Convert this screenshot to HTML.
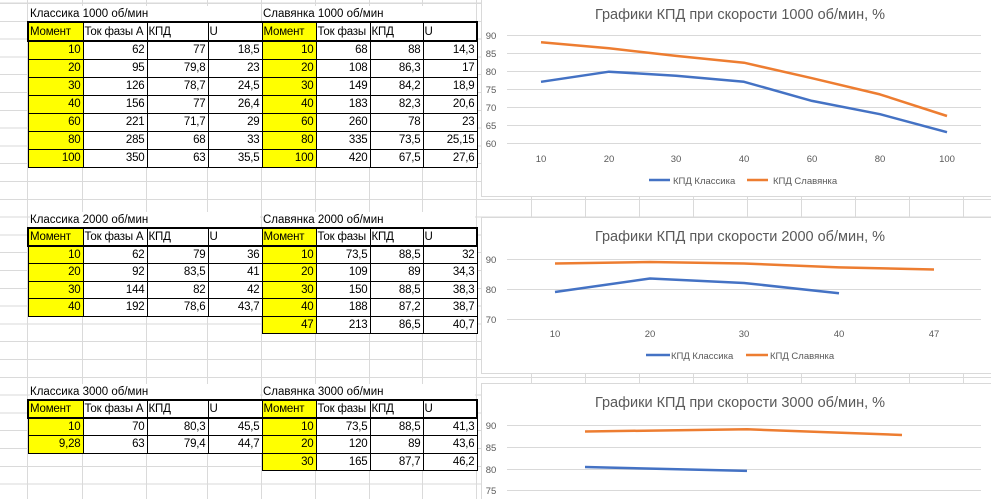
<!DOCTYPE html>
<html style="overflow:hidden"><head><meta charset="utf-8">
<style>
html,body{overflow:hidden;}
body{margin:0;width:991px;height:499px;overflow:hidden;background:#fff;position:relative;font-family:"Liberation Sans","Noto Sans CJK SC",sans-serif;}
.grid{position:absolute;left:0;top:0;width:991px;height:499px;background:repeating-linear-gradient(to bottom,#dadada 0 1px,transparent 1px 17.8px);background-position:0 3px;}
.v{position:absolute;top:0;width:1px;height:499px;background:#dadada;}
.title{position:absolute;font-size:11.5px;color:#000;background:#fff;height:16px;line-height:16px;}
table{position:absolute;left:27px;width:449px;border-collapse:collapse;table-layout:fixed;font-size:11.5px;letter-spacing:-0.2px;}
td{padding:0 2px;text-align:right;white-space:nowrap;overflow:hidden;border:1px solid #000;background:#fff;line-height:14px;}
td.e{border:none;background:transparent;}
td.y{background:#ffff00;}
tr.h td{text-align:left;border-top:2px solid #000;border-bottom:2px solid #000;padding:0 1px;}
tr.h td:first-child{border-left:2px solid #000;}
tr.h td:last-child{border-right:2px solid #000;}
.chart{position:absolute;left:481px;width:515px;background:#fff;border:1px solid #d9d9d9;}
svg{position:absolute;left:0;top:0;}
</style></head><body>
<div class="grid"></div>
<div class="v" style="left:27px"></div><div class="v" style="left:82px"></div><div class="v" style="left:146px"></div><div class="v" style="left:207px"></div><div class="v" style="left:261px"></div><div class="v" style="left:315px"></div><div class="v" style="left:369px"></div><div class="v" style="left:422px"></div><div class="v" style="left:476px"></div><div class="v" style="left:531px"></div><div class="v" style="left:585px"></div><div class="v" style="left:639px"></div><div class="v" style="left:693px"></div><div class="v" style="left:747px"></div><div class="v" style="left:801px"></div><div class="v" style="left:855px"></div><div class="v" style="left:909px"></div><div class="v" style="left:963px"></div>

<div class="title" style="left:30px;top:6px;width:230px">Классика 1000 об/мин</div>
<div class="title" style="left:263px;top:6px;width:212px">Славянка 1000 об/мин</div>
<table style="top:21px">
<colgroup><col style="width:55px"><col style="width:64px"><col style="width:61px"><col style="width:54px"><col style="width:54px"><col style="width:54px"><col style="width:53px"><col style="width:54px"></colgroup>
<tr class="h" style="height:19px"><td class="y">Момент</td><td>Ток фазы А</td><td>КПД</td><td>U</td><td class="y">Момент</td><td>Ток фазы</td><td>КПД</td><td>U</td></tr>
<tr style="height:18px"><td class="y">10</td><td>62</td><td>77</td><td>18,5</td><td class="y">10</td><td>68</td><td>88</td><td>14,3</td></tr>
<tr style="height:18px"><td class="y">20</td><td>95</td><td>79,8</td><td>23</td><td class="y">20</td><td>108</td><td>86,3</td><td>17</td></tr>
<tr style="height:18px"><td class="y">30</td><td>126</td><td>78,7</td><td>24,5</td><td class="y">30</td><td>149</td><td>84,2</td><td>18,9</td></tr>
<tr style="height:18px"><td class="y">40</td><td>156</td><td>77</td><td>26,4</td><td class="y">40</td><td>183</td><td>82,3</td><td>20,6</td></tr>
<tr style="height:18px"><td class="y">60</td><td>221</td><td>71,7</td><td>29</td><td class="y">60</td><td>260</td><td>78</td><td>23</td></tr>
<tr style="height:18px"><td class="y">80</td><td>285</td><td>68</td><td>33</td><td class="y">80</td><td>335</td><td>73,5</td><td>25,15</td></tr>
<tr style="height:18px"><td class="y">100</td><td>350</td><td>63</td><td>35,5</td><td class="y">100</td><td>420</td><td>67,5</td><td>27,6</td></tr>
</table>

<div class="title" style="left:30px;top:212px;width:230px">Классика 2000 об/мин</div>
<div class="title" style="left:263px;top:212px;width:212px">Славянка 2000 об/мин</div>
<table style="top:227px">
<colgroup><col style="width:55px"><col style="width:64px"><col style="width:61px"><col style="width:54px"><col style="width:54px"><col style="width:54px"><col style="width:53px"><col style="width:54px"></colgroup>
<tr class="h" style="height:18px"><td class="y">Момент</td><td>Ток фазы А</td><td>КПД</td><td>U</td><td class="y">Момент</td><td>Ток фазы</td><td>КПД</td><td>U</td></tr>
<tr style="height:17.5px"><td class="y">10</td><td>62</td><td>79</td><td>36</td><td class="y">10</td><td>73,5</td><td>88,5</td><td>32</td></tr>
<tr style="height:17.5px"><td class="y">20</td><td>92</td><td>83,5</td><td>41</td><td class="y">20</td><td>109</td><td>89</td><td>34,3</td></tr>
<tr style="height:17.5px"><td class="y">30</td><td>144</td><td>82</td><td>42</td><td class="y">30</td><td>150</td><td>88,5</td><td>38,3</td></tr>
<tr style="height:17.5px"><td class="y">40</td><td>192</td><td>78,6</td><td>43,7</td><td class="y">40</td><td>188</td><td>87,2</td><td>38,7</td></tr>
<tr style="height:17.5px"><td class="e"></td><td class="e"></td><td class="e"></td><td class="e"></td><td class="y">47</td><td>213</td><td>86,5</td><td>40,7</td></tr>
</table>

<div class="title" style="left:30px;top:384px;width:230px">Классика 3000 об/мин</div>
<div class="title" style="left:263px;top:384px;width:212px">Славянка 3000 об/мин</div>
<table style="top:399px">
<colgroup><col style="width:55px"><col style="width:64px"><col style="width:61px"><col style="width:54px"><col style="width:54px"><col style="width:54px"><col style="width:53px"><col style="width:54px"></colgroup>
<tr class="h" style="height:18px"><td class="y">Момент</td><td>Ток фазы А</td><td>КПД</td><td>U</td><td class="y">Момент</td><td>Ток фазы</td><td>КПД</td><td>U</td></tr>
<tr style="height:17.5px"><td class="y">10</td><td>70</td><td>80,3</td><td>45,5</td><td class="y">10</td><td>73,5</td><td>88,5</td><td>41,3</td></tr>
<tr style="height:17.5px"><td class="y">9,28</td><td>63</td><td>79,4</td><td>44,7</td><td class="y">20</td><td>120</td><td>89</td><td>43,6</td></tr>
<tr style="height:17.5px"><td class="e"></td><td class="e"></td><td class="e"></td><td class="e"></td><td class="y">30</td><td>165</td><td>87,7</td><td>46,2</td></tr>
</table>

<div class="chart" style="top:-1px;height:196px;width:510px"></div>
<div class="chart" style="top:217px;height:155px;width:510px"></div>
<div class="chart" style="top:383px;height:116px;width:510px;border-bottom:none"></div>

<svg width="991" height="499" viewBox="0 0 991 499" font-family="Liberation Sans, sans-serif">
<g stroke="#d9d9d9" stroke-width="1">
<line x1="507" x2="981" y1="35.5" y2="35.5"/><line x1="507" x2="981" y1="53.5" y2="53.5"/><line x1="507" x2="981" y1="71.5" y2="71.5"/><line x1="507" x2="981" y1="89.5" y2="89.5"/><line x1="507" x2="981" y1="107.5" y2="107.5"/><line x1="507" x2="981" y1="125.5" y2="125.5"/><line x1="507" x2="981" y1="143.5" y2="143.5"/>
<line x1="507" x2="981" y1="259.5" y2="259.5"/><line x1="507" x2="981" y1="289.5" y2="289.5"/><line x1="507" x2="981" y1="319.5" y2="319.5"/>
<line x1="507" x2="981" y1="425.5" y2="425.5"/><line x1="507" x2="981" y1="447.5" y2="447.5"/><line x1="507" x2="981" y1="469.5" y2="469.5"/><line x1="507" x2="981" y1="490.5" y2="490.5"/>
</g>
<g fill="#595959" font-size="14.5" text-anchor="middle">
<text x="740" y="19">Графики КПД при скорости 1000 об/мин, %</text>
<text x="740" y="241">Графики КПД при скорости 2000 об/мин, %</text>
<text x="740" y="407">Графики КПД при скорости 3000 об/мин, %</text>
</g>
<g fill="#595959" font-size="9.5" text-anchor="middle">
<text x="491" y="39">90</text><text x="491" y="57">85</text><text x="491" y="75">80</text><text x="491" y="93">75</text><text x="491" y="111">70</text><text x="491" y="129">65</text><text x="491" y="147">60</text>
<text x="541" y="162">10</text><text x="609" y="162">20</text><text x="676" y="162">30</text><text x="744" y="162">40</text><text x="812" y="162">60</text><text x="880" y="162">80</text><text x="947" y="162">100</text>
<text x="491" y="263">90</text><text x="491" y="293">80</text><text x="491" y="323">70</text>
<text x="555" y="337">10</text><text x="650" y="337">20</text><text x="744" y="337">30</text><text x="839" y="337">40</text><text x="934" y="337">47</text>
<text x="491" y="429">90</text><text x="491" y="451">85</text><text x="491" y="473">80</text><text x="491" y="494">75</text>
</g>
<g fill="#595959" font-size="9.5">
<text x="673" y="184">КПД  Классика</text><text x="773" y="184">КПД  Славянка</text>
<text x="671" y="359">КПД  Классика</text><text x="770" y="359">КПД  Славянка</text>
</g>
<g fill="none" stroke-width="2.5" stroke-linejoin="round">
<line x1="649" x2="670" y1="180" y2="180" stroke="#4472c4"/><line x1="747" x2="768" y1="180" y2="180" stroke="#ed7d31"/>
<line x1="646" x2="670" y1="355" y2="355" stroke="#4472c4"/><line x1="746" x2="768" y1="355" y2="355" stroke="#ed7d31"/>
<polyline stroke="#4472c4" points="541,81.8 609,71.7 676,75.7 744,81.8 812,100.9 880,114.2 947,132.2"/>
<polyline stroke="#ed7d31" points="541,42.2 609,48.3 676,55.9 744,62.7 812,78.2 880,94.4 947,116"/>
<polyline stroke="#4472c4" points="555,292 650,278.5 744,283 839,293.2"/>
<polyline stroke="#ed7d31" points="555,263.5 650,262 744,263.5 839,267.4 934,269.5"/>
<polyline stroke="#4472c4" points="585,467 747,470.9"/>
<polyline stroke="#ed7d31" points="585,431.5 747,429.3 902,435"/>
</g>
</svg>
</body></html>
